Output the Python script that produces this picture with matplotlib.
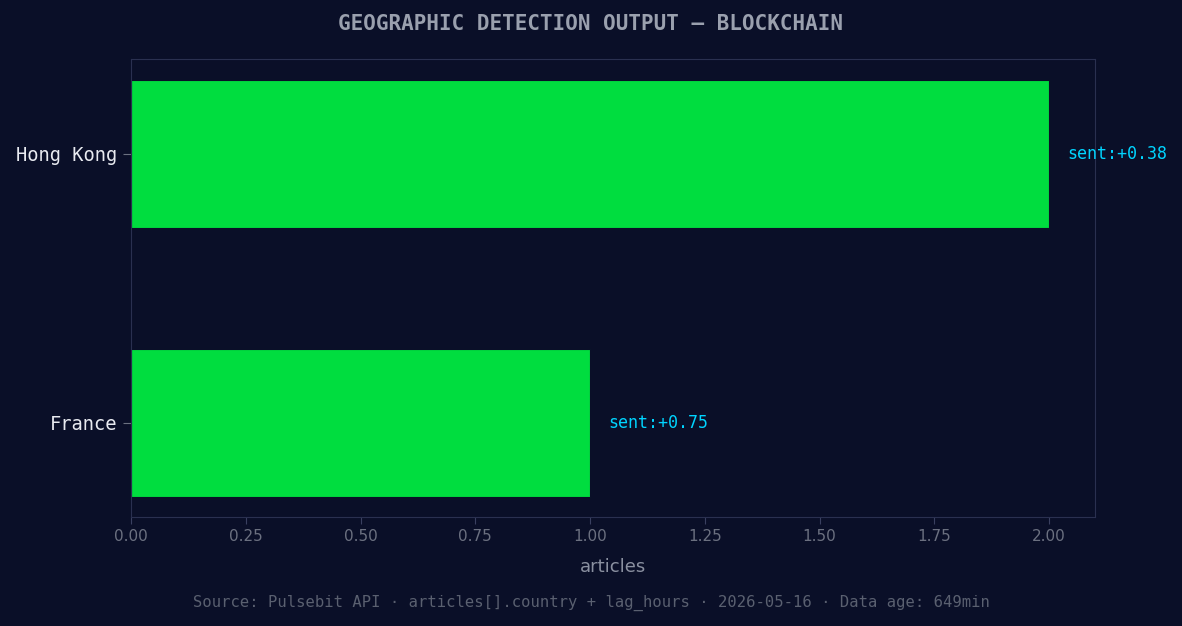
import matplotlib
matplotlib.use("Agg")
import matplotlib.pyplot as plt

countries = ["France", "Hong Kong"]
articles = [1, 2]
sentiments = ["+0.75", "+0.38"]

bg = "#0a0f28"
fig = plt.figure(figsize=(11.82, 6.26), dpi=100, facecolor=bg)
ax = fig.add_axes([131/1182, 1-517/626, (1095-131)/1182, (517-59)/626], facecolor=bg)
ax.barh(countries, articles, height=0.55, color="#00dd3f", edgecolor="#0a0f28", linewidth=0.8)
for i, (v, s) in enumerate(zip(articles, sentiments)):
    ax.text(v + 0.04, i, f"sent:{s}", color="#00d4ff", fontsize=12, family="DejaVu Sans Mono", va="center")
ax.set_xlim(0, 2.1)
ax.set_ylim(-0.35, 1.353)
ax.set_xticks([0, 0.25, 0.5, 0.75, 1.0, 1.25, 1.5, 1.75, 2.0])
for sp in ax.spines.values():
    sp.set_color("#2a3050")
ax.tick_params(axis="x", colors="#3a4060", labelcolor="#6b7080", labelsize=11, length=5)
ax.tick_params(axis="y", colors="#6b7080", labelcolor="#e8eaf0", labelsize=13.5, length=6, pad=4)
for t in ax.get_yticklabels():
    t.set_family("DejaVu Sans Mono")
ax.set_xlabel("articles", color="#8a90a0", fontsize=13, labelpad=10)
fig.text(0.5, 1-24/626, "GEOGRAPHIC DETECTION OUTPUT — BLOCKCHAIN", ha="center", va="center",
         color="#9aa0ae", fontsize=15, weight="bold", family="DejaVu Sans Mono")
fig.text(0.5, 1-603/626, "Source: Pulsebit API · articles[].country + lag_hours · 2026-05-16 · Data age: 649min",
         ha="center", va="center", color="#5a6070", fontsize=11.15, family="DejaVu Sans Mono")
fig.savefig("out.png", dpi=100, facecolor=bg)
